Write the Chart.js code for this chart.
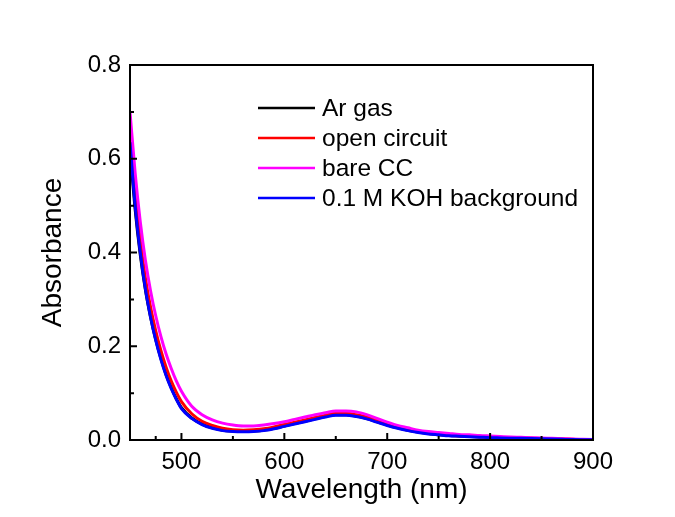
<!DOCTYPE html>
<html>
<head>
<meta charset="utf-8">
<script src="https://cdn.jsdelivr.net/npm/chart.js@4/dist/chart.umd.min.js"></script>
<style>
  body { margin: 0; background: #fff; }
  #wrap { width: 675px; height: 517px; }
</style>
</head>
<body>
<div id="wrap"><canvas id="absorbance-chart" width="675" height="517"></canvas></div>
<script>
// UV-vis spectra, wavelength in nm
const wavelength = [450, 455, 460, 465, 470, 475, 480, 485, 490, 495,
    500, 510, 520, 530, 540, 550, 560, 570, 580, 590,
    600, 610, 620, 630, 640, 650, 660, 670, 680, 690,
    700, 710, 720, 730, 740, 750, 760, 770, 780, 790,
    800, 810, 820, 830, 840, 850, 860, 870, 880, 890, 900];

const arGas = [0.620, 0.492, 0.395, 0.320, 0.262, 0.214, 0.174, 0.140, 0.112, 0.088,
    0.069, 0.047, 0.034, 0.026, 0.021, 0.019, 0.018, 0.019, 0.021, 0.025,
    0.030, 0.035, 0.040, 0.045, 0.050, 0.054, 0.054, 0.051, 0.046, 0.039,
    0.032, 0.026, 0.021, 0.017, 0.014, 0.011, 0.0095, 0.0085, 0.0075, 0.0065,
    0.0055, 0.005, 0.0045, 0.004, 0.0035, 0.003, 0.0022, 0.0016, 0.0011, 0.0008, 0.0005];
const openCircuit = [0.665, 0.528, 0.425, 0.345, 0.283, 0.233, 0.191, 0.156, 0.126, 0.102,
    0.082, 0.056, 0.040, 0.031, 0.025, 0.022, 0.021, 0.022, 0.024, 0.028,
    0.033, 0.038, 0.043, 0.048, 0.053, 0.057, 0.057, 0.054, 0.049, 0.042,
    0.034, 0.028, 0.022, 0.018, 0.015, 0.012, 0.010, 0.009, 0.008, 0.007,
    0.006, 0.005, 0.0045, 0.004, 0.0035, 0.003, 0.0025, 0.002, 0.0015, 0.001, 0.0007];
const bareCC = [0.700, 0.570, 0.465, 0.383, 0.318, 0.265, 0.221, 0.184, 0.153, 0.126,
    0.104, 0.072, 0.054, 0.043, 0.036, 0.032, 0.030, 0.030, 0.032, 0.035,
    0.039, 0.044, 0.049, 0.054, 0.058, 0.062, 0.062, 0.060, 0.054, 0.046,
    0.038, 0.031, 0.026, 0.021, 0.018, 0.016, 0.014, 0.012, 0.011, 0.0095,
    0.0085, 0.0075, 0.0065, 0.0058, 0.005, 0.0045, 0.0035, 0.0028, 0.002, 0.0015, 0.001];
const kohBackground = [0.635, 0.500, 0.400, 0.322, 0.262, 0.213, 0.172, 0.138, 0.110, 0.087,
    0.067, 0.046, 0.033, 0.025, 0.020, 0.018, 0.0175, 0.018, 0.020, 0.024,
    0.029, 0.034, 0.039, 0.044, 0.049, 0.053, 0.053, 0.050, 0.045, 0.038,
    0.031, 0.025, 0.020, 0.016, 0.013, 0.011, 0.009, 0.008, 0.007, 0.006,
    0.005, 0.0045, 0.004, 0.0035, 0.003, 0.0025, 0.002, 0.0015, 0.001, 0.0007, 0.0005];

const seriesLabels = ['Ar gas', 'open circuit', 'bare CC', '0.1 M KOH background'];
const seriesColors = ['#000000', '#ff0000', '#ff00ff', '#0000ff'];
const xTicks = [500, 600, 700, 800, 900];
const yTicks = [0.0, 0.2, 0.4, 0.6, 0.8];

const FONT = 'Liberation Sans, Arial, sans-serif';

function toPoints(values) {
    return wavelength.map((w, i) => ({ x: w, y: values[i] }));
}

// box around the plot with inward major/minor ticks, plus the inset legend
const framePlugin = {
    id: 'frame',
    afterDatasetsDraw(chart) {
        const { ctx, chartArea: a, scales: { x, y } } = chart;
        ctx.save();
        ctx.strokeStyle = '#000';
        ctx.lineWidth = 2;
        ctx.beginPath();
        xTicks.forEach((v, i) => {
            const px = x.getPixelForValue(v);
            ctx.moveTo(px, a.bottom); ctx.lineTo(px, a.bottom - 7);
            const prev = i === 0 ? x.min : xTicks[i - 1];
            const mx = x.getPixelForValue((prev + v) / 2);
            ctx.moveTo(mx, a.bottom); ctx.lineTo(mx, a.bottom - 4);
        });
        yTicks.forEach((v, i) => {
            const py = y.getPixelForValue(v);
            ctx.moveTo(a.left, py); ctx.lineTo(a.left + 7, py);
            if (i > 0) {
                const my = y.getPixelForValue((yTicks[i - 1] + v) / 2);
                ctx.moveTo(a.left, my); ctx.lineTo(a.left + 4, my);
            }
        });
        ctx.stroke();
        ctx.strokeRect(a.left, a.top, a.right - a.left, a.bottom - a.top);
        ctx.restore();
    },
    afterDraw(chart) {
        const { ctx } = chart;
        ctx.save();
        ctx.font = '24.5px ' + FONT;
        ctx.textBaseline = 'middle';
        chart.data.datasets.forEach((ds, i) => {
            const yy = 108 + i * 30;
            ctx.strokeStyle = ds.borderColor;
            ctx.lineWidth = 2.5;
            ctx.beginPath();
            ctx.moveTo(258, yy);
            ctx.lineTo(315, yy);
            ctx.stroke();
            ctx.fillStyle = '#000';
            ctx.fillText(ds.label, 322, yy + 1);
        });
        ctx.restore();
    }
};

const ctx = document.getElementById('absorbance-chart').getContext('2d');
new Chart(ctx, {
    type: 'line',
    data: {
        datasets: [arGas, openCircuit, bareCC, kohBackground].map((vals, i) => ({
            label: seriesLabels[i],
            data: toPoints(vals),
            borderColor: seriesColors[i],
            borderWidth: 3,
            pointRadius: 0,
            cubicInterpolationMode: 'monotone',
            fill: false,
            order: 4 - i
        }))
    },
    options: {
        responsive: false,
        animation: false,
        layout: { padding: { top: 65, right: 82, left: 0, bottom: 0 } },
        plugins: { legend: { display: false }, tooltip: { enabled: false } },
        scales: {
            x: {
                type: 'linear',
                min: 450,
                max: 900,
                afterBuildTicks: scale => { scale.ticks = xTicks.map(v => ({ value: v })); },
                afterFit: scale => { scale.height = 77; },
                grid: { display: false, drawTicks: false },
                border: { display: false },
                ticks: { color: '#000', padding: 8, maxRotation: 0, font: { family: FONT, size: 24 } },
                title: { display: true, text: 'Wavelength (nm)', color: '#000', padding: { top: 0, bottom: 10 }, font: { family: FONT, size: 28 } }
            },
            y: {
                min: 0,
                max: 0.8,
                afterBuildTicks: scale => { scale.ticks = yTicks.map(v => ({ value: v })); },
                afterFit: scale => { scale.width = 130; },
                grid: { display: false, drawTicks: false },
                border: { display: false },
                ticks: { color: '#000', padding: 9, font: { family: FONT, size: 24 }, callback: v => v.toFixed(1) },
                title: { display: true, text: 'Absorbance', color: '#000', padding: { top: 36, bottom: 0 }, font: { family: FONT, size: 28 } }
            }
        }
    },
    plugins: [framePlugin]
});
</script>
</body>
</html>
